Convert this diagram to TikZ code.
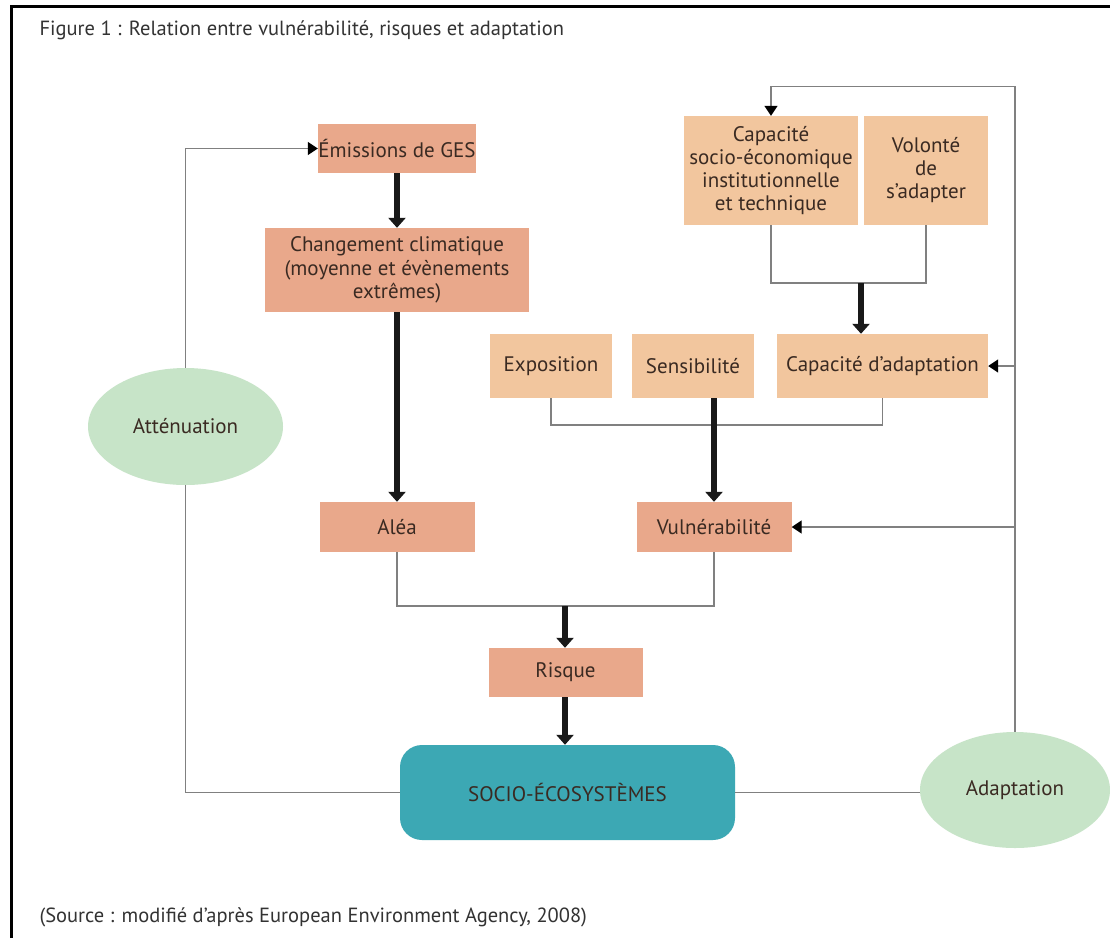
\documentclass[tikz,border=0pt]{standalone}
\usepackage{fontspec}
\setmainfont{PT Sans}
\usetikzlibrary{arrows.meta,shapes.geometric}
\definecolor{salmon}{HTML}{E9A88B}
\definecolor{peach}{HTML}{F2C69E}
\definecolor{teal}{HTML}{3CA8B4}
\definecolor{mint}{HTML}{C7E4C8}
\definecolor{txt}{HTML}{3A2A22}
\definecolor{thin}{HTML}{808080}
\tikzset{
  boxA/.style={fill=salmon, draw=none, text=txt, align=center, inner sep=0pt, font=\fontsize{21}{23.5}\selectfont},
  boxB/.style={fill=peach, draw=none, text=txt, align=center, inner sep=0pt, font=\fontsize{21}{23}\selectfont},
  ell/.style={ellipse, fill=mint, draw=none, text=txt, inner sep=0pt, font=\fontsize{21}{23}\selectfont},
  thinline/.style={draw=thin, line width=1.3pt},
  thinarrow/.style={draw=thin, line width=1.3pt, -{Triangle[width=13pt,length=10pt,fill=black,color=black]}},
  bigarrow/.style={draw=black!90, line width=5.5pt, -{Triangle[width=17pt,length=10pt]}},
}
\begin{document}
\begin{tikzpicture}[x=1pt,y=-1pt]
\useasboundingbox (0,0) rectangle (1110,938);
\fill[white] (0,0) rectangle (1110,938);
\draw[line width=3pt] (11.5,938) -- (11.5,6.5) -- (1110,6.5);
\node[anchor=west, text=black!80, font=\fontsize{20.5}{23}\selectfont] (title) at (36,30) {Figure 1 : Relation entre vulnérabilité, risques et adaptation};
\node[anchor=west, text=black!80, font=\fontsize{20.5}{23}\selectfont] (source) at (36,917) {(Source : modifié d’après European Environment Agency, 2008)};

\node[boxA, minimum width=158pt, minimum height=49pt] (emis) at (397,148.5) {Émissions de GES};
\node[boxA, minimum width=264pt, minimum height=84pt] (chg) at (397,270) {Changement climatique\\(moyenne et évènements\\extrêmes)};
\node[boxB, minimum width=174pt, minimum height=109pt] (cap) at (771,170.5) {Capacité\\socio-économique\\institutionnelle\\et technique};
\node[boxB, minimum width=124pt, minimum height=109pt] (vol) at (926,170.5) {Volonté\\de\\s’adapter};
\node[boxB, minimum width=122pt, minimum height=64pt] (expo) at (551,366) {Exposition};
\node[boxB, minimum width=122pt, minimum height=64pt] (sens) at (693,366) {Sensibilité};
\node[boxB, minimum width=211pt, minimum height=64pt] (capad) at (882.5,366) {Capacité d’adaptation};
\node[boxA, minimum width=155pt, minimum height=50pt] (alea) at (397,527) {Aléa};
\node[boxA, minimum width=155pt, minimum height=50pt] (vuln) at (714,527) {Vulnérabilité};
\node[boxA, minimum width=154pt, minimum height=49pt] (risq) at (565.5,672.5) {Risque};
\node[fill=teal, rounded corners=22pt, minimum width=335pt, minimum height=95pt, text=txt, font=\fontsize{21}{23}\selectfont] (socio) at (567.5,792.5) {SOCIO-ÉCOSYSTÈMES};
\node[ell, minimum width=195pt, minimum height=117pt] (att) at (185.5,426.5) {Atténuation};
\node[ell, minimum width=190pt, minimum height=116pt] (adap) at (1015,790) {Adaptation};

\coordinate (capj) at (861,283);
\coordinate (ej) at (714,425);
\coordinate (rj) at (565,606);

% left loop
\draw[thinline] (att.south) |- (socio.west);
\draw[thinarrow] (att.north) |- (emis.west);
% right loop
\draw[thinline] (socio.east) -- (socio.east -| adap.west);
\draw[thinarrow] (adap.north) |- ([yshift=29pt]cap.north) -- (cap.north);
\draw[thinarrow] (adap.north |- capad.east) -- (capad.east);
\draw[thinarrow] (adap.north |- vuln.east) -- (vuln.east);
% joins
\draw[thinline] (cap.south) |- (capj) -| (vol.south);
\draw[thinline] (expo.south) |- (ej) -| (capad.south);
\draw[thinline] (alea.south) |- (rj) -| (vuln.south);
% thick arrows
\draw[bigarrow] (emis.south) -- (chg.north);
\draw[bigarrow] (chg.south) -- (alea.north);
\draw[bigarrow] (capj) -- (capj |- capad.north);
\draw[bigarrow] (sens.south -| vuln.north) -- (vuln.north);
\draw[bigarrow] (rj) -- (rj |- risq.north);
\draw[bigarrow] (risq.south -| rj) -- (rj |- socio.north);
\end{tikzpicture}
\end{document}
